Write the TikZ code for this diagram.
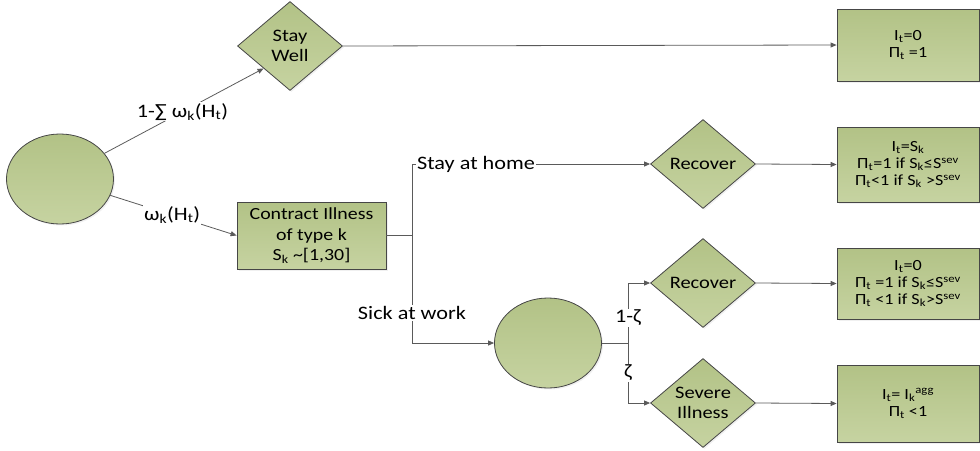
\documentclass[tikz,border=0pt]{standalone}
\usepackage{fontspec}
\setmainfont[FakeStretch=1.17]{Carlito}
\usetikzlibrary{shapes.geometric,arrows.meta,shadows}
\definecolor{gtop}{RGB}{178,194,134}
\definecolor{gbot}{RGB}{198,211,161}
\definecolor{bord}{RGB}{70,70,70}
\definecolor{lin}{RGB}{90,90,90}
\begin{document}
\begin{tikzpicture}[x=1pt,y=-1pt,
  fillg/.style={draw=bord, line width=0.8pt, top color=gtop, bottom color=gbot,
    drop shadow={opacity=0.12,shadow xshift=1.5pt,shadow yshift=-1.5pt}},
  ell/.style={fillg, ellipse, minimum width=107pt, minimum height=90pt, inner sep=0pt},
  dia/.style={fillg, diamond, minimum width=105pt, minimum height=89pt, inner sep=0pt,
    aspect=1.2, align=center, font=\fontsize{17.5}{20}\selectfont},
  box/.style={fillg, rectangle, align=center, inner sep=0pt, minimum width=142pt,
    font=\fontsize{15.5}{17}\selectfont},
  conn/.style={draw=lin, line width=0.8pt},
  arr/.style={conn, -{Triangle[length=6pt,width=5pt]}},
  lab/.style={fill=white, inner sep=1pt, font=\fontsize{19}{21}\selectfont}
]
\useasboundingbox (0,0) rectangle (980,450);
\node[ell] (e1) at (60,179) {};
\node[dia] (sw) at (290,46) {Stay\\Well};
\node[box, minimum width=149pt, minimum height=67pt, font=\fontsize{17}{20.5}\selectfont]
  (ci) at (311.5,235.5) {Contract Illness\\of type k\\S\textsubscript{k} \textasciitilde[1,30]};
\node[dia] (r1) at (703,164) {Recover};
\node[ell] (e2) at (548,343) {};
\node[dia] (r2) at (703,283) {Recover};
\node[dia] (sv) at (703,403) {Severe\\Illness};
\node[box, minimum height=72pt] (b1) at (908,45) {I\textsubscript{t}=0\\Π\textsubscript{t} =1};
\node[box, minimum height=75pt] (b2) at (908,164.5)
  {I\textsubscript{t}=S\textsubscript{k}\\Π\textsubscript{t}=1 if S\textsubscript{k}≤S\textsuperscript{sev}\\Π\textsubscript{t}<1 if S\textsubscript{k} >S\textsuperscript{sev}};
\node[box, minimum height=71pt] (b3) at (908,283.5)
  {I\textsubscript{t}=0\\Π\textsubscript{t} =1 if S\textsubscript{k}≤S\textsuperscript{sev}\\Π\textsubscript{t} <1 if S\textsubscript{k}>S\textsuperscript{sev}};
\node[box, minimum height=77pt] (b4) at (908,403.5)
  {I\textsubscript{t}= I\textsubscript{k}\textsuperscript{agg}\\Π\textsubscript{t} <1};
\coordinate (j1) at (412,235.5);
\coordinate (j2) at (628,343);
\draw[arr] (e1.30) -- node[lab,pos=0.49]{1-∑ ω\textsubscript{k}(H\textsubscript{t})} (sw.south west);
\draw[arr] (e1.-18) -- node[lab,pos=0.49]{ω\textsubscript{k}(H\textsubscript{t})} (ci.west);
\draw[arr] (sw.east) -- (b1.west);
\draw[conn] (ci.east) -- (j1);
\draw[arr] (j1) |- (r1.west);
\draw[arr] (j1) |- (e2.west);
\node[lab] (lsh) at (476,164) {Stay at home};
\node[lab] (lsw) at (412,313) {Sick at work};
\draw[arr] (r1.east) -- (b2.west);
\draw[conn] (e2.east) -- (j2);
\draw[arr] (j2) |- (r2.west);
\draw[arr] (j2) |- (sv.west);
\node[lab] (lz1) at (628,318) {1-ζ};
\node[lab] (lz2) at (628,373) {ζ};
\draw[arr] (r2.east) -- (b3.west);
\draw[arr] (sv.east) -- (b4.west);
\end{tikzpicture}
\end{document}
